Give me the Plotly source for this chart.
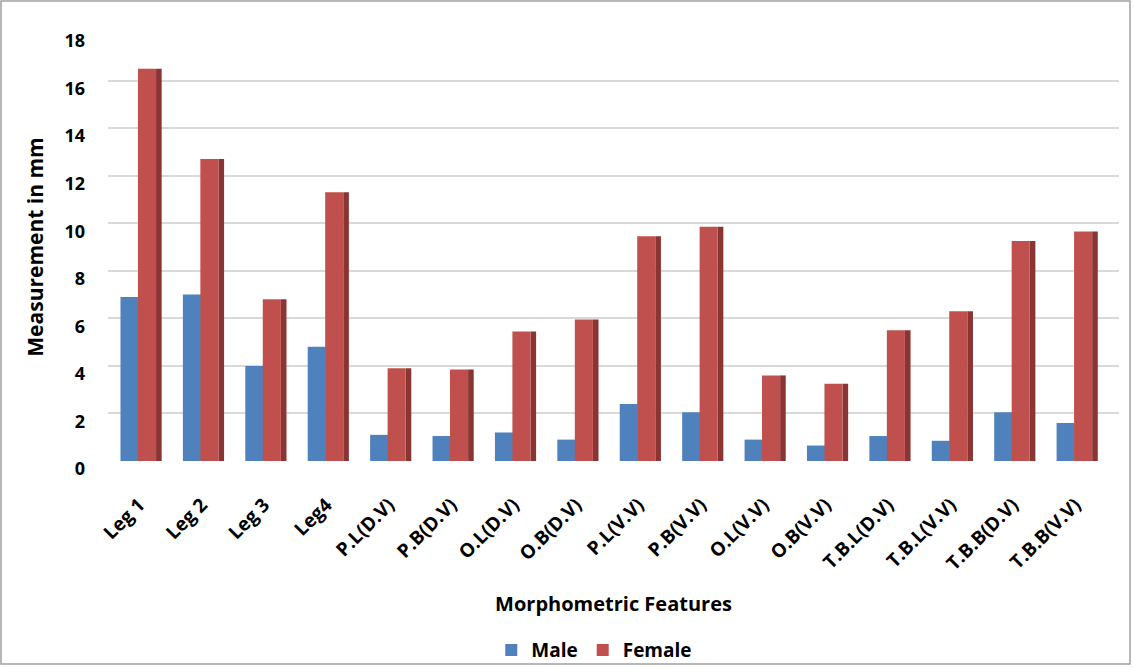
import plotly.graph_objects as go

categories = ["Leg 1", "Leg 2", "Leg 3", "Leg4", "P.L(D.V)", "P.B(D.V)", "O.L(D.V)", "O.B(D.V)",
              "P.L(V.V)", "P.B(V.V)", "O.L(V.V)", "O.B(V.V)", "T.B.L(D.V)", "T.B.L(V.V)",
              "T.B.B(D.V)", "T.B.B(V.V)"]
male = [6.9, 7.0, 4.0, 4.8, 1.1, 1.05, 1.2, 0.9, 2.4, 2.05, 0.9, 0.65, 1.05, 0.85, 2.05, 1.6]
female = [16.5, 12.7, 6.8, 11.3, 3.9, 3.85, 5.45, 5.95, 9.45, 9.85, 3.6, 3.25, 5.5, 6.3, 9.25, 9.65]
y_ticks = [0, 2, 4, 6, 8, 10, 12, 14, 16, 18]

BLUE = "#4F81BD"
RED = "#C0504D"
RED_SIDE = "#8A3533"
FONT = "Open Sans"

W, H = 1134, 668
L, R, T, B = 108, W - 1119, 33, H - 461

fig = go.Figure()
fig.add_trace(go.Bar(x=categories, y=female, name="Female side", showlegend=False,
                     hoverinfo="skip", offset=0.27, width=0.09,
                     marker=dict(color=RED_SIDE, line=dict(width=0))))
fig.add_trace(go.Bar(x=categories, y=male, name="Male", offset=-0.3, width=0.29,
                     marker=dict(color=BLUE, line=dict(width=0))))
fig.add_trace(go.Bar(x=categories, y=female, name="Female", offset=-0.02, width=0.29,
                     marker=dict(color=RED, line=dict(width=0))))

# chart border
pw, ph = W - L - R, H - T - B
fig.add_shape(type="rect", xref="paper", yref="paper",
              x0=(1 - L) / pw, x1=(W - 4 - L) / pw,
              y0=-(H - 4 - T - ph) / ph, y1=(ph + T - 1) / ph,
              line=dict(color="#A0A0A0", width=1.5), layer="below")

fig.update_layout(
    width=W, height=H,
    margin=dict(l=L, r=R, t=T, b=B, autoexpand=False),
    paper_bgcolor="white", plot_bgcolor="white",
    barmode="overlay",
    font=dict(family=FONT, color="#000000"),
    legend=dict(orientation="h", x=0.481, xanchor="center", y=-0.442, yanchor="middle",
                bgcolor="rgba(0,0,0,0)",
                font=dict(family=FONT, size=19, color="#000000", weight="bold"),
                traceorder="normal", itemwidth=30),
    xaxis=dict(type="category", range=[-0.5, 15.7], showgrid=False, showline=False,
               ticks="", tickangle=-45, automargin=False, ticklabelstandoff=28,
               tickfont=dict(family=FONT, size=19, color="#000000", weight="bold"),
               title=dict(text="Morphometric Features", standoff=22,
                          font=dict(family=FONT, size=20, color="#000000", weight="bold"))),
    yaxis=dict(range=[0, 18], tickvals=y_ticks, showgrid=True, gridcolor="#D9D9D9",
               gridwidth=2, zeroline=False, showline=False, ticks="", automargin=False,
               ticklabelstandoff=22, ticklabelshift=8,
               tickfont=dict(family=FONT, size=18, color="#000000", weight="bold"),
               title=dict(text="Measurement in mm", standoff=15,
                          font=dict(family=FONT, size=21, color="#000000", weight="bold"))),
)

fig.write_html("out.html", config={"displayModeBar": False},
               post_script="document.body.style.margin='0px';")
